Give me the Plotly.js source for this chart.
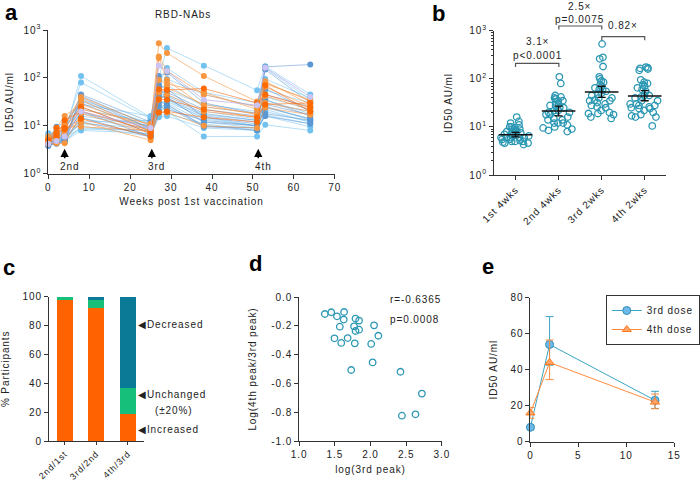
<!DOCTYPE html>
<html><head><meta charset="utf-8">
<script src="https://cdn.plot.ly/plotly-3.0.1.min.js"></script>
<style>
html,body{margin:0;padding:0;background:#fff;}
#chart{width:700px;height:482px;}
svg text{letter-spacing:0.9px;}
</style></head>
<body><div id="chart"></div>
<script>
// ---------- DATA ----------
// Panel a: weeks post 1st vaccination
const weeks = [0,2,4,8,25,27,29,38,51,53,64];
// per-participant ID50 (AU/ml) at each week, grouped by drawing colour
const lightBlueP = [
  [5.5,6,7,110,15,100,420,180,55,175,45],
  [6,7,8,80,14,75,160,50,30,95,38],
  [4.5,5,5.5,14,9,28,35,14,10,25,14],
  [7,6.5,6,12,13,22,30,12,9,20,12],
  [5,5.5,5,9,8,18,20,6,6,10.5,8],
  [4.2,4.5,4.8,8,7,15,16,9,8,17,11],
  [6.5,8,10,35,11,60,70,25,18,40,22],
  [5.8,6,6.5,18,10,35,45,20,14,30,20],
  [4.8,5,6,11,9,25,27,10,9,26,13],
  [5.2,5.8,7,22,12,45,55,28,20,55,30],
  [4,4.4,4.6,10,6,16,18,11,8,16,9.5],
  [6,7,9,28,16,85,95,45,25,160,35],
  [5,6,8,16,10,40,38,17,13,35,18],
  [4.6,5.2,6,8.5,8,30,32,15,10,22,12]
];
const blueP = [
  [4,4.2,5,42,10,55,50,22,16,45,25],
  [3.8,4.3,4.6,38,9,40,42,18,13,170,190],
  [5,9.5,12,30,8,70,60,15,11,60,20],
  [4.3,5,6.5,25,7,48,40,12,10,35,16],
  [4.5,4.8,5.5,20,6,32,28,10,8,18,13],
  [5.5,6.5,7.5,45,12,110,130,30,18,150,30],
  [4.2,4.5,5,15,5.8,20,25,9.5,9,16,11],
  [4.8,5.5,6,33,9,65,36,16,12,28,17],
  [4,4.5,5.2,12,6.5,26,22,13,10,24,14]
];
const orangeP = [
  [5.5,9,16,28,9,530,330,110,32,85,28],
  [4.5,7,11,40,10,280,140,45,25,75,35],
  [4.2,4.3,4.3,18,7,35,45,20,15,30,20],
  [6,6.5,9.5,9.5,8,19,19,10,9,24,17],
  [5,5,8,12,5,260,90,25,18,65,25],
  [4.8,5.2,7,22,11,50,62,28,17,42,22],
  [5.3,6,10,35,7.5,90,75,50,22,80,33]
];
const darkOrangeP = [
  [4.3,9,9,25,7,58,56,60,30,45,24],
  [5,6,13,20,8,36,35,22,15,28,30],
  [4.6,7,8.5,14,6,19,20,15,12,70,20]
];
const lavenderP = [
  [4.2,4.8,6,20,9,180,140,35,27,165,40]
];
const doseWeeks = [4,25.3,51.3];
const doseLabels = ['2nd','3rd','4th'];

// Panel b: groups taken from panel a at these week indices
const bCategories = ['1st 4wks','2nd 4wks','3rd 2wks','4th 2wks'];
const bWeekIndex = [2,3,5,9];
const bGeoMean = [6.9,21.5,53,44];
const bCiHigh = [7.7,27,70,57];
const bCiLow = [6.2,17,41,35];

// Panel c: % participants
const cCategories = ['2nd/1st','3rd/2nd','4th/3rd'];
const cIncreased = [97.5,92,18.5];
const cUnchanged = [2.5,5.5,18.5];
const cDecreased = [0,2.5,63];

// Panel d
const dLog3rd = [1.36,1.45,1.53,1.63,1.625,1.57,1.495,1.59,1.68,1.79,1.84,1.77,1.79,1.84,1.78,1.73,2.01,2.05,2.11,2.03,2.42,2.44,2.63,2.72];
const dLogRatio = [-0.118,-0.106,-0.134,-0.104,-0.157,-0.206,-0.287,-0.319,-0.285,-0.150,-0.164,-0.204,-0.236,-0.227,-0.322,-0.507,-0.326,-0.197,-0.269,-0.454,-0.519,-0.824,-0.815,-0.671];

// Panel e
const eWeeks = [0,2,13];
const e3rd = [8,54,23];
const e3rdUp = [1,15.5,5];
const e3rdDown = [1,11.5,4.5];
const e4th = [16,44,22];
const e4thUp = [3,12.5,4.5];
const e4thDown = [3,9.5,3.7];

// ---------- HELPERS ----------
const W=700,H=482;
const X=p=>p/W, Y=p=>1-p/H;
const FONT='Liberation Sans, Arial, sans-serif';
const AX = {showline:true, linecolor:'#333', linewidth:1, ticks:'outside', ticklen:4, tickwidth:1, tickcolor:'#333', showgrid:false, zeroline:false, tickfont:{size:10,color:'#222',family:FONT}, fixedrange:true};
function ax(extra){ return Object.assign({}, AX, extra); }
const logTicks = {type:'log', range:[0,3], tickmode:'array', tickvals:[1,10,100,1000], ticktext:['10<sup>0</sup>','10<sup>1</sup>','10<sup>2</sup>','10<sup>3</sup>']};

const traces=[];
function addGroup(arr, lineCol, markCol){
  arr.forEach(p=>traces.push({type:'scatter', mode:'lines+markers', x:weeks, y:p, xaxis:'x', yaxis:'y',
    line:{color:lineCol,width:1}, marker:{color:markCol,size:6}, cliponaxis:false, showlegend:false, hoverinfo:'skip'}));
}
addGroup(lightBlueP,'rgba(120,196,240,0.55)','#72c2f0');
addGroup(blueP,'rgba(80,140,205,0.5)','#5b97d2');
addGroup(orangeP,'rgba(247,150,70,0.6)','#f7963f');
addGroup(darkOrangeP,'rgba(255,110,20,0.6)','#ff6a00');
addGroup(lavenderP,'rgba(180,170,235,0.7)','#cbc4f4');

// Panel b strip points
const allP = [].concat(lightBlueP,blueP,orangeP,darkOrangeP,lavenderP);
bWeekIndex.forEach((wi,i)=>{
  traces.push({type:'box', x0:i, y:allP.map(p=>p[wi]), xaxis:'x2', yaxis:'y2', boxpoints:'all', jitter:1, pointpos:0, width:0.85,
    fillcolor:'rgba(0,0,0,0)', line:{width:0,color:'rgba(0,0,0,0)'}, marker:{symbol:'circle-open',size:6.5,color:'#2a97b3',line:{width:1.3,color:'#2a97b3'}},
    showlegend:false, hoverinfo:'skip'});
});
traces.push({type:'scatter', mode:'markers', x:[0,1,2,3], y:bGeoMean, xaxis:'x2', yaxis:'y2',
  marker:{symbol:'line-ew',size:24,line:{width:1.5,color:'#111'}},
  error_y:{type:'data',symmetric:false,array:bCiHigh.map((v,i)=>v-bGeoMean[i]),arrayminus:bGeoMean.map((v,i)=>v-bCiLow[i]),color:'#111',thickness:1.3,width:4},
  showlegend:false, hoverinfo:'skip', cliponaxis:false});

// Panel c stacked bars
const cx=[0,1,2];
traces.push({type:'bar', x:cx, y:cIncreased, xaxis:'x3', yaxis:'y3', marker:{color:'#ff6200'}, width:0.5, showlegend:false, hoverinfo:'skip'});
traces.push({type:'bar', x:cx, y:cUnchanged, xaxis:'x3', yaxis:'y3', marker:{color:'#16c07a'}, width:0.5, showlegend:false, hoverinfo:'skip'});
traces.push({type:'bar', x:cx, y:cDecreased, xaxis:'x3', yaxis:'y3', marker:{color:'#0a7a96'}, width:0.5, showlegend:false, hoverinfo:'skip'});

// Panel d scatter
traces.push({type:'scatter', mode:'markers', x:dLog3rd, y:dLogRatio, xaxis:'x4', yaxis:'y4',
  marker:{symbol:'circle-open',size:6.5,color:'#2a97b3',line:{width:1.3}}, showlegend:false, hoverinfo:'skip', cliponaxis:false});

// Panel e
traces.push({type:'scatter', mode:'lines+markers', name:'3rd dose', x:eWeeks, y:e3rd, xaxis:'x5', yaxis:'y5',
  line:{color:'#3aa5c2',width:1}, marker:{symbol:'circle',size:8,color:'#6fb8ea',line:{color:'#2f8fb5',width:1}},
  error_y:{type:'data',symmetric:false,array:e3rdUp,arrayminus:e3rdDown,color:'#3aa5c2',thickness:1,width:4}, cliponaxis:false});
traces.push({type:'scatter', mode:'lines+markers', name:'4th dose', x:eWeeks, y:e4th, xaxis:'x5', yaxis:'y5',
  line:{color:'#ff8a3d',width:1}, marker:{symbol:'triangle-up',size:8,color:'#ffa466',line:{color:'#ff7a20',width:1}},
  error_y:{type:'data',symmetric:false,array:e4thUp,arrayminus:e4thDown,color:'#ff8a3d',thickness:1,width:4}, cliponaxis:false});

// ---------- ANNOTATIONS / SHAPES ----------
const ann=[];
const shapes=[];
function lab(t,x,y){ann.push({text:'<b>'+t+'</b>',xref:'paper',yref:'paper',x:X(x),y:Y(y),xanchor:'left',yanchor:'middle',showarrow:false,font:{size:22,family:FONT,color:'#000'}});}
lab('a',3,12); lab('b',434,13); lab('c',1,267); lab('d',249,263); lab('e',484,266);
function ptext(t,x,y,opt){ann.push(Object.assign({text:t,xref:'paper',yref:'paper',x:X(x),y:Y(y),xanchor:'center',yanchor:'middle',showarrow:false,font:{size:10,family:FONT,color:'#222'}},opt||{}));}
ptext('RBD-NAbs',185,14);
// dose arrows panel a
doseWeeks.forEach((w,i)=>{
  ann.push({xref:'x',yref:'y',x:w,y:Math.log10(3.3),ax:0,ay:11,showarrow:true,arrowhead:2,arrowsize:1.1,arrowwidth:1.5,arrowcolor:'#000',text:''});
  ann.push({xref:'x',yref:'y',x:w+1.2,y:Math.log10(1.4),text:doseLabels[i],showarrow:false,font:{size:10,family:FONT,color:'#222'}});
});
// panel b brackets
function bracket(x0,x1,yTop,yBot){shapes.push({type:'path',xref:'paper',yref:'paper',path:`M ${X(x0)} ${Y(yBot)} L ${X(x0)} ${Y(yTop)} L ${X(x1)} ${Y(yTop)} L ${X(x1)} ${Y(yBot)}`,line:{color:'#555',width:1.2}});}
bracket(520,563.7,63.3,67);
bracket(563.7,607,26,29.5);
bracket(607,650.3,36.7,40.3);
ptext('3.1×',541.8,41); ptext('p<0.0001',541.8,55);
ptext('2.5×',585,6.5); ptext('p=0.0075',585,19.5);
ptext('0.82×',628.7,25);
// panel c labels
function ctext(t,yv,xp){ann.push({xref:'paper',yref:'y3',x:X(xp),y:yv,text:t,showarrow:false,xanchor:'left',yanchor:'middle',font:{size:10,family:FONT,color:'#222'}});}
ctext('◀Decreased',80.5,137);
ctext('◀Unchanged',32,137);
ctext('(±20%)',21,154);
ctext('◀Increased',8,137);
// panel d stats
ann.push({xref:'x4',yref:'y4',x:2.24,y:-0.017,text:'r=-0.6365',showarrow:false,xanchor:'left',yanchor:'middle',font:{size:10,family:FONT,color:'#222'}});
ann.push({xref:'x4',yref:'y4',x:2.24,y:-0.153,text:'p=0.0008',showarrow:false,xanchor:'left',yanchor:'middle',font:{size:10,family:FONT,color:'#222'}});

const tf = {size:10,family:FONT,color:'#222'};
const layout={
  width:W,height:H,margin:{l:0,r:0,t:0,b:0},paper_bgcolor:'#fff',plot_bgcolor:'#fff',
  font:{family:FONT,size:10,color:'#222'},
  barmode:'stack', bargap:0.5,
  showlegend:true,
  legend:{x:X(611),y:Y(295),xanchor:'left',yanchor:'top',traceorder:'normal',bordercolor:'#333',borderwidth:1,bgcolor:'#fff',font:{size:10,family:FONT,color:'#222'},tracegroupgap:0,itemwidth:30},
  xaxis: ax({domain:[X(48.7),X(337.7)],anchor:'y',range:[0,70],tickvals:[0,10,20,30,40,50,60,70],title:{text:'Weeks post 1st vaccination',font:tf,standoff:6}}),
  yaxis: ax(Object.assign({domain:[Y(173.7),Y(30)],anchor:'x',title:{text:'ID50 AU/ml',font:tf,standoff:8}},logTicks)),
  xaxis2: ax({domain:[X(498.3),X(672)],anchor:'y2',range:[-0.5,3.5],tickvals:[0,1,2,3],ticktext:bCategories,tickangle:-45}),
  yaxis2: ax(Object.assign({domain:[Y(175),Y(30.7)],anchor:'x2',title:{text:'ID50 AU/ml',font:tf,standoff:14},minor:{ticks:'outside',ticklen:2,tickcolor:'#333',dtick:'D1'}},logTicks)),
  xaxis3: ax({domain:[X(49.3),X(145)],anchor:'y3',range:[-0.5,2.5],tickvals:[0,1,2],ticktext:cCategories,tickangle:-45,ticklen:3,tickfont:{size:9,color:'#222',family:FONT}}),
  yaxis3: ax({domain:[Y(441),Y(296.7)],anchor:'x3',range:[0,100],tickvals:[0,20,40,60,80,100],title:{text:'% Participants',font:tf,standoff:12}}),
  xaxis4: ax({domain:[X(301.7),X(445.7)],anchor:'y4',range:[1,3],tickvals:[1,1.5,2,2.5,3],ticktext:['1.0','1.5','2.0','2.5','3.0'],title:{text:'log(3rd peak)',font:tf,standoff:6}}),
  yaxis4: ax({domain:[Y(441),Y(297)],anchor:'x4',range:[-1,0],tickvals:[0,-0.2,-0.4,-0.6,-0.8,-1],ticktext:['0.0','-0.2','-0.4','-0.6','-0.8','-1.0'],title:{text:'Log(4th peak/3rd peak)',font:tf,standoff:12}}),
  xaxis5: ax({domain:[X(535),X(680)],anchor:'y5',range:[0,15],tickvals:[0,5,10,15]}),
  yaxis5: ax({domain:[Y(441.7),Y(297.7)],anchor:'x5',range:[0,80],tickvals:[0,20,40,60,80],title:{text:'ID50 AU/ml',font:tf,standoff:10}}),
  annotations:ann, shapes:shapes
};
Plotly.newPlot('chart',traces,layout,{staticPlot:true,displayModeBar:false});
</script></body></html>
